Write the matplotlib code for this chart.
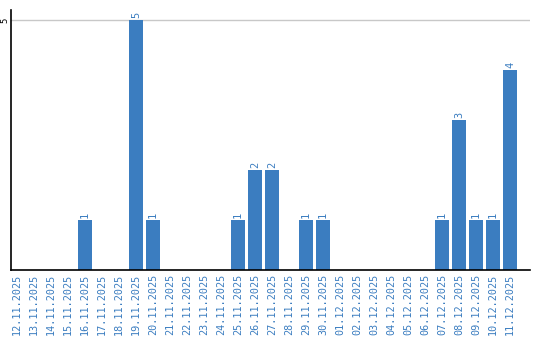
import matplotlib
matplotlib.use("Agg")
from matplotlib import pyplot as plt
import numpy as np
import datetime as dt

start = dt.date(2025, 11, 12)
dates = [(start + dt.timedelta(days=i)).strftime("%d.%m.%Y") for i in range(30)]
counts = [0, 0, 0, 0, 1, 0, 0, 5, 1, 0,
          0, 0, 0, 1, 2, 2, 0, 1, 1, 0,
          0, 0, 0, 0, 0, 1, 3, 1, 1, 4]

blue = "#3b7dc0"

fig = plt.figure(figsize=(5.4, 3.4), dpi=100)
ax = fig.add_axes([11/540, 70/340, 519/540, 260/340])

x = np.arange(len(dates))
ax.bar(x, counts, width=0.82, color=blue, zorder=2)
for xi, v in zip(x, counts):
    if v > 0:
        ax.text(xi, v + 0.04, str(v), rotation=90, ha="center", va="bottom",
                color=blue, fontsize=7.5, family="DejaVu Sans Mono")

ax.set_xlim(-0.35, 30.18)
ax.set_ylim(0, 5.2)
ax.set_yticks([5])
ax.set_yticklabels(["5"], rotation=90, va="center", fontsize=6.5, family="DejaVu Sans Mono")
ax.axhline(5, color="#c8c8c8", lw=1, zorder=1)
ax.set_xticks(x)
ax.set_xticklabels(dates, rotation=90, color=blue, fontsize=7.3, family="DejaVu Sans Mono")
ax.tick_params(length=0, pad=3)
ax.tick_params(axis="y", pad=1)
for s in ["top", "right"]:
    ax.spines[s].set_visible(False)
for s in ["left", "bottom"]:
    ax.spines[s].set_color("black")
    ax.spines[s].set_linewidth(1.2)

fig.savefig("out.png", dpi=100)
